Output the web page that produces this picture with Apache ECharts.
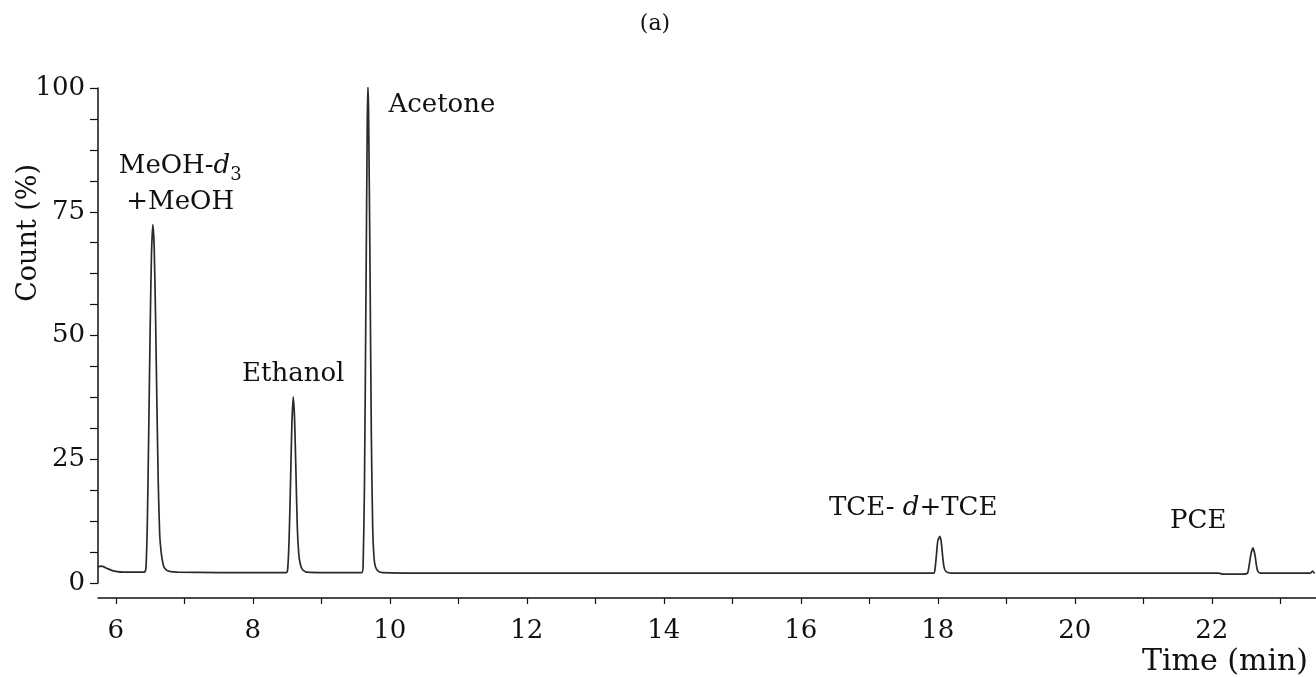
<!DOCTYPE html>
<html>
<head>
<meta charset="utf-8">
<title>Chromatogram (a)</title>
<script src="https://cdn.jsdelivr.net/npm/echarts@6/dist/echarts.min.js"></script>
<style>
  html, body { margin: 0; padding: 0; background: #ffffff; }
  #chart { width: 1316px; height: 677px; }
</style>
</head>
<body>
<div id="chart"></div>
<script>
// Retention time (min) and detector count (% of largest peak)
const timeMin = [
  5.74, 5.78, 5.82, 5.88, 5.95, 6.02, 6.10, 6.30, 6.42,
  6.44, 6.46, 6.48, 6.50, 6.52, 6.54, 6.56, 6.58, 6.60, 6.62, 6.64, 6.66, 6.68, 6.70, 6.74, 6.80, 6.90,
  7.50, 8.00, 8.49,
  8.51, 8.53, 8.55, 8.57, 8.59, 8.61, 8.63, 8.65, 8.67, 8.69, 8.72, 8.78,
  9.20, 9.59,
  9.61, 9.63, 9.65, 9.67, 9.68, 9.69, 9.71, 9.73, 9.75, 9.77, 9.79, 9.83, 9.90,
  10.5, 12.0, 14.0, 16.0, 17.94,
  17.96, 17.98, 18.00, 18.03, 18.05, 18.07, 18.09, 18.12, 18.20,
  20.0, 22.10, 22.16, 22.45, 22.52,
  22.54, 22.57, 22.60, 22.63, 22.65, 22.67, 22.71,
  23.44, 23.47, 23.50
];
const countPct = [
  3.2, 3.4, 3.3, 2.9, 2.5, 2.3, 2.2, 2.2, 2.2,
  3.0, 12, 30, 50, 66, 72.4, 68, 54, 36, 20, 10, 6.5, 4.5, 3.3, 2.6, 2.3, 2.2,
  2.1, 2.1, 2.1,
  3.0, 9, 20, 32, 37.6, 33, 22, 11, 6, 4, 2.8, 2.2,
  2.1, 2.1,
  3.5, 20, 55, 92, 100.5, 95, 65, 30, 11, 5, 3.3, 2.4, 2.1,
  2.0, 2.0, 2.0, 2.0, 2.0,
  3.0, 5.8, 8.6, 9.4, 8.2, 5.4, 3.2, 2.3, 2.0,
  2.0, 2.0, 1.8, 1.8, 2.0,
  3.2, 5.8, 7.1, 5.6, 3.6, 2.4, 2.0,
  2.0, 2.4, 1.9
];

// Axis ticks and labels
const xTickValues = [6, 7, 8, 9, 10, 11, 12, 13, 14, 15, 16, 17, 18, 19, 20, 21, 22, 23];
const xLabelValues = [6, 8, 10, 12, 14, 16, 18, 20, 22];
const yTickValues = [0, 6.25, 12.5, 18.75, 25, 31.25, 37.5, 43.75, 50, 56.25, 62.5, 68.75, 75, 81.25, 87.5, 93.75, 100];
const yLabelValues = [0, 25, 50, 75, 100];

// Peak annotations: rich-text label, time and count where each is centred
const peakLabels = [
  '{n|MeOH-}{i|d}{s|3}\n{n|+MeOH}',
  '{n|Ethanol}',
  '{n|Acetone}',
  '{n|TCE- }{i|d}{n|+TCE}',
  '{n|PCE}'
];
const peakLabelTime = [6.94, 8.59, 10.76, 17.64, 21.80];
const peakLabelCount = [80.6, 42.2, 96.6, 15.2, 12.5];

const FONT = 'DejaVu Serif';
const INK = '#111111';

const lineData = timeMin.map((t, i) => [t, countPct[i]]);
const labelData = peakLabelTime.map((t, i) => ({ value: [t, peakLabelCount[i]], labelText: peakLabels[i] }));

const chart = echarts.init(document.getElementById('chart'), null, { renderer: 'canvas' });

chart.setOption({
  backgroundColor: '#ffffff',
  animation: false,
  title: {
    text: '(a)',
    left: 650,
    top: 8,
    textAlign: 'center',
    textStyle: { fontFamily: FONT, fontSize: 22, fontWeight: 'normal', color: INK }
  },
  grid: { left: 98, right: 0, top: 88, bottom: 94, containLabel: false },
  xAxis: {
    type: 'value',
    min: 5.74,
    max: 23.52,
    offset: 15,
    axisLine: { show: true, onZero: false, lineStyle: { color: INK, width: 1.5 } },
    axisTick: { show: true, inside: false, length: 6, customValues: xTickValues, lineStyle: { color: INK, width: 1.2 } },
    axisLabel: {
      customValues: xLabelValues,
      margin: 20,
      fontFamily: FONT, fontSize: 26, color: INK
    },
    splitLine: { show: false }
  },
  yAxis: {
    type: 'value',
    min: 0,
    max: 100,
    axisLine: { show: true, lineStyle: { color: INK, width: 1.5 } },
    axisTick: { show: true, inside: false, length: 8, customValues: yTickValues, lineStyle: { color: INK, width: 1.2 } },
    axisLabel: {
      customValues: yLabelValues,
      margin: 13,
      fontFamily: FONT, fontSize: 26, color: INK
    },
    splitLine: { show: false }
  },
  graphic: [
    {
      type: 'text',
      left: 15, top: 164,
      rotation: Math.PI / 2,
      style: { text: 'Count (%)', font: '27px "DejaVu Serif"', fill: INK }
    },
    {
      type: 'text',
      right: 8, top: 647,
      style: { text: 'Time (min)', font: '30px "DejaVu Serif"', fill: INK }
    }
  ],
  series: [
    {
      name: 'Count',
      type: 'line',
      data: lineData,
      showSymbol: false,
      smooth: 0.2,
      lineStyle: { color: '#2a2a2a', width: 1.7 },
      z: 3
    },
    {
      name: 'Peaks',
      type: 'scatter',
      data: labelData,
      symbolSize: 0,
      silent: true,
      itemStyle: { opacity: 1 },
      label: {
        show: true,
        position: 'inside',
        opacity: 1,
        formatter: p => p.data.labelText,
        color: INK,
        rich: {
          n: { fontFamily: FONT, fontSize: 26, color: INK, lineHeight: 36 },
          i: { fontFamily: FONT, fontSize: 26, fontStyle: 'italic', color: INK, lineHeight: 36 },
          s: { fontFamily: FONT, fontSize: 18, color: INK, lineHeight: 36, verticalAlign: 'bottom', padding: [12, 0, 0, 0] }
        }
      },
      z: 4
    }
  ]
});
</script>
</body>
</html>
